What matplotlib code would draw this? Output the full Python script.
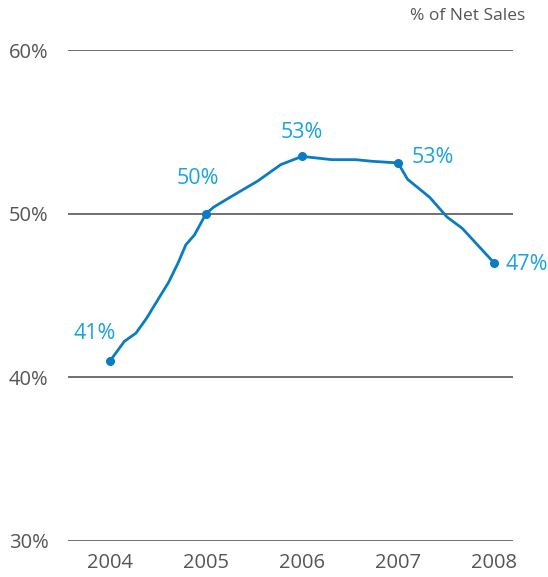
import matplotlib.pyplot as plt

# quarterly-ish trace of the line
t = [2004.0, 2004.15, 2004.27, 2004.38, 2004.51, 2004.61, 2004.71, 2004.79, 2004.88,
     2005.0, 2005.08, 2005.25, 2005.54, 2005.78,
     2006.0, 2006.31, 2006.56, 2006.73,
     2007.0, 2007.1, 2007.33, 2007.51, 2007.67, 2008.0]
pct = [41.0, 42.2, 42.7, 43.6, 44.85, 45.8, 47.0, 48.1, 48.7,
       50.0, 50.4, 51.0, 52.0, 53.0,
       53.5, 53.3, 53.3, 53.2,
       53.1, 52.1, 51.0, 49.8, 49.1, 47.0]

years = [2004, 2005, 2006, 2007, 2008]
year_vals = [41.0, 50.0, 53.5, 53.1, 47.0]
year_labels = ["41%", "50%", "53%", "53%", "47%"]
# label offsets in points (dx, dy) and alignment
offsets = [(-11, 20, "center"), (-6, 25, "center"), (0, 17, "center"),
           (10, 4, "left"), (8, -1, "left")]

yticks = [30, 40, 50, 60]

plt.rcParams['font.family'] = ['Open Sans', 'DejaVu Sans']

fig = plt.figure(figsize=(5.48, 5.77), dpi=100)
ax = fig.add_axes([68 / 548, 1 - 541 / 577, (513 - 68) / 548, (541 - 50) / 577])

for y in yticks:
    ax.axhline(y, color="#707070", lw=1.4, zorder=1)

line_color = "#0a7cc4"
ax.plot(t, pct, color=line_color, lw=2.0, zorder=3, solid_joinstyle="round")
ax.plot(years, year_vals, "o", color=line_color, ms=5.5, zorder=4)

for x, v, lab, (dx, dy, ha) in zip(years, year_vals, year_labels, offsets):
    ax.annotate(lab, (x, v), xytext=(dx, dy), textcoords="offset points",
                ha=ha, va="center", color="#1aa3e0", fontsize=15.5)

ax.set_xlim(2004 - 42 / 96, 2008 + 19 / 96)
ax.set_ylim(30, 60)
ax.set_xticks(years)
ax.set_xticklabels([str(y) for y in years])
ax.set_yticks(yticks)
ax.set_yticklabels([f"{y}%" for y in yticks])
ax.tick_params(length=0, labelsize=14.5, labelcolor="#555555")
ax.tick_params(axis="y", pad=14)
ax.tick_params(axis="x", pad=9)
for s in ax.spines.values():
    s.set_visible(False)

fig.text(525 / 548, 1 - 16 / 577, "% of Net Sales", ha="right", va="center",
         fontsize=12.5, color="#555555")

fig.savefig("out.png", dpi=100)
